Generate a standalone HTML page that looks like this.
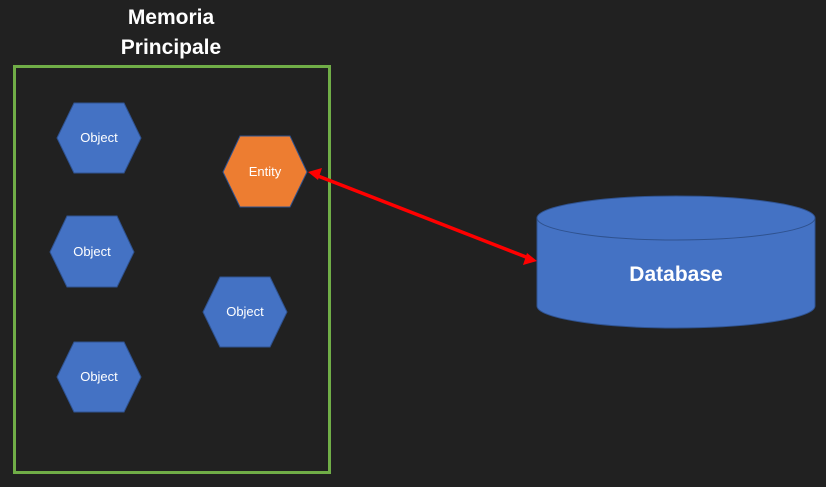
<!DOCTYPE html>
<html><head><style>body{margin:0;background:#212121}svg{display:block}</style></head><body>
<svg width="826" height="487" viewBox="0 0 826 487" xmlns="http://www.w3.org/2000/svg">
<rect width="826" height="487" fill="#212121"/>
<text x="171" y="24" text-anchor="middle" font-family="Liberation Sans, sans-serif" font-weight="bold" font-size="21" fill="#fff">Memoria</text>
<text x="171" y="54" text-anchor="middle" font-family="Liberation Sans, sans-serif" font-weight="bold" font-size="21" fill="#fff">Principale</text>
<rect x="14.5" y="66.5" width="315" height="406" fill="none" stroke="#70ad47" stroke-width="3"/>
<g stroke="#2f528f" stroke-width="1" font-family="Liberation Sans, sans-serif" font-size="13" text-anchor="middle">
<polygon points="57,138 74,103 124,103 141,138 124,173 74,173" fill="#4472c4"/>
<text x="99" y="142" fill="#fff" stroke="none">Object</text>
<polygon points="223,172 240,136 290,136 307,172 290,207 240,207" fill="#ed7d31"/>
<text x="265" y="176" fill="#fff" stroke="none">Entity</text>
<polygon points="50,252 67,216 117,216 134,252 117,287 67,287" fill="#4472c4"/>
<text x="92" y="256" fill="#fff" stroke="none">Object</text>
<polygon points="203,312 220,277 270,277 287,312 270,347 220,347" fill="#4472c4"/>
<text x="245" y="316" fill="#fff" stroke="none">Object</text>
<polygon points="57,377 74,342 124,342 141,377 124,412 74,412" fill="#4472c4"/>
<text x="99" y="381" fill="#fff" stroke="none">Object</text>
</g>
<g stroke="#2f528f" stroke-width="1">
<path d="M537,218 V306 A139,22 0 0 0 815,306 V218 Z" fill="#4472c4"/>
<ellipse cx="676" cy="218" rx="139" ry="22" fill="#4472c4"/>
</g>
<text x="676" y="281" text-anchor="middle" font-family="Liberation Sans, sans-serif" font-weight="bold" font-size="21" fill="#fff">Database</text>
<line x1="318" y1="176" x2="526" y2="257" stroke="#f00" stroke-width="3.5"/>
<polygon points="308,172 322,168 318,180" fill="#f00"/>
<polygon points="537,261 523,265 527,253" fill="#f00"/>
</svg>
</body></html>
